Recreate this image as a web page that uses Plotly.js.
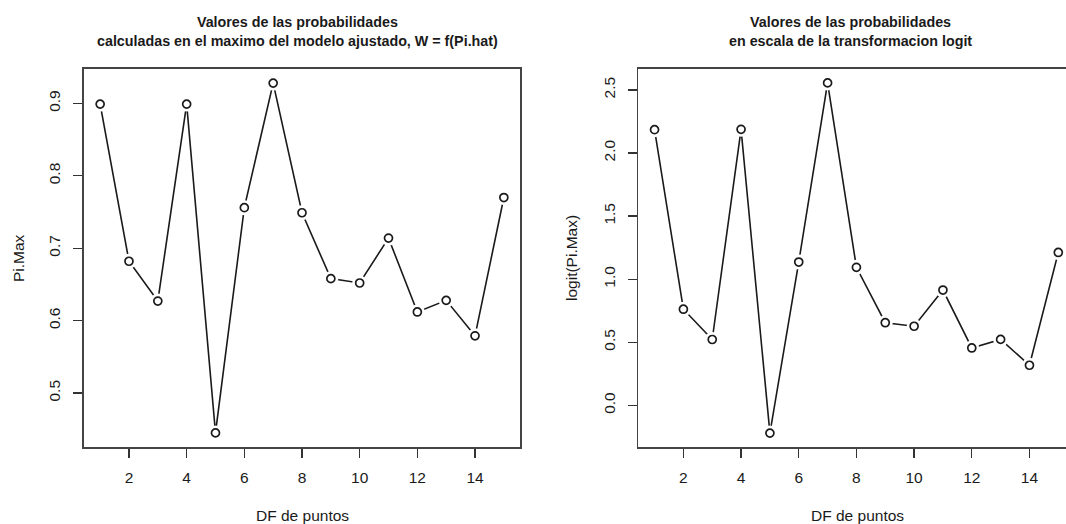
<!DOCTYPE html>
<html>
<head>
<meta charset="utf-8">
<script src="https://cdn.plot.ly/plotly-3.0.1.min.js"></script>
<style>html,body{margin:0;padding:0;background:#fff;}#chart{width:1066px;height:524px;}</style>
</head>
<body>
<div id="chart"></div>
<script>
// Data
const dfPuntos = [1, 2, 3, 4, 5, 6, 7, 8, 9, 10, 11, 12, 13, 14, 15];
const piMax = [0.899, 0.682, 0.627, 0.899, 0.445, 0.756, 0.928, 0.749, 0.658, 0.652, 0.714, 0.612, 0.628, 0.579, 0.770];
const logitPiMax = [2.185, 0.762, 0.522, 2.188, -0.220, 1.136, 2.556, 1.094, 0.655, 0.627, 0.914, 0.455, 0.523, 0.318, 1.212];
const xTicks = [2, 4, 6, 8, 10, 12, 14];
const y1Ticks = [0.5, 0.6, 0.7, 0.8, 0.9];
const y1TickText = ["0.5", "0.6", "0.7", "0.8", "0.9"];
const y2Ticks = [0.0, 0.5, 1.0, 1.5, 2.0, 2.5];
const y2TickText = ["0.0", "0.5", "1.0", "1.5", "2.0", "2.5"];

const titleLeft = "Valores de las probabilidades<br>calculadas en el maximo del modelo ajustado, W = f(Pi.hat)";
const titleRight = "Valores de las probabilidades<br>en escala de la transformacion logit";
const xTitle = "DF de puntos";
const yTitleLeft = "Pi.Max";
const yTitleRight = "logit(Pi.Max)";

const W = 1066, H = 524;
const px = v => v / W;
const py = v => 1 - v / H;
const FONT = "Liberation Sans, Arial, Helvetica, sans-serif";
const INK = "#1a1a1a";

function series(x, y, xa, ya) {
  return [
    {x: x, y: y, xaxis: xa, yaxis: ya, type: "scatter", mode: "lines",
     line: {color: INK, width: 1.6}, hoverinfo: "skip"},
    {x: x, y: y, xaxis: xa, yaxis: ya, type: "scatter", mode: "markers",
     marker: {symbol: "circle", size: 15, color: "#ffffff", line: {width: 0}}, hoverinfo: "skip"},
    {x: x, y: y, xaxis: xa, yaxis: ya, type: "scatter", mode: "markers",
     marker: {symbol: "circle", size: 8, color: "#ffffff", line: {color: INK, width: 1.7}}, hoverinfo: "skip"}
  ];
}

const data = [].concat(series(dfPuntos, piMax, "x", "y"), series(dfPuntos, logitPiMax, "x2", "y2"));

const axisCommon = {
  showgrid: false, zeroline: false, showline: true, linecolor: "#444", linewidth: 1.6,
  ticks: "outside", ticklen: 9, tickwidth: 1.3, tickcolor: "#333",
  tickfont: {family: FONT, size: 15.5, color: INK}, tickmode: "array"
};

const yTop = py(69), yBot = py(447);

const layout = {
  width: W, height: H,
  margin: {l: 0, r: 0, t: 0, b: 0},
  paper_bgcolor: "#ffffff", plot_bgcolor: "#ffffff",
  showlegend: false, hovermode: false,
  xaxis: Object.assign({}, axisCommon, {
    domain: [px(84), px(520)], range: [0.44, 15.56], anchor: "y",
    tickvals: xTicks, mirror: true, ticklabelstandoff: 7
  }),
  yaxis: Object.assign({}, axisCommon, {
    domain: [yBot, yTop], range: [0.4255, 0.9475], anchor: "x",
    tickvals: y1Ticks, ticktext: y1TickText, tickangle: -90, mirror: true, ticklabelstandoff: 7
  }),
  xaxis2: Object.assign({}, axisCommon, {
    domain: [px(638.4), 1], range: [0.44, 15.267], anchor: "y2",
    tickvals: xTicks, mirror: true, ticklabelstandoff: 7
  }),
  yaxis2: Object.assign({}, axisCommon, {
    domain: [yBot, yTop], range: [-0.33, 2.666], anchor: "x2",
    tickvals: y2Ticks, ticktext: y2TickText, tickangle: -90, mirror: false, ticklabelstandoff: 7
  }),
  annotations: [
    {text: "<b>" + titleLeft + "</b>", x: px(297), y: py(31), xref: "paper", yref: "paper",
     xanchor: "center", yanchor: "middle", showarrow: false, align: "center",
     font: {family: FONT, size: 14.3, color: INK}},
    {text: "<b>" + titleRight + "</b>", x: px(850), y: py(31), xref: "paper", yref: "paper",
     xanchor: "center", yanchor: "middle", showarrow: false, align: "center",
     font: {family: FONT, size: 14.3, color: INK}},
    {text: xTitle, x: px(302), y: py(515), xref: "paper", yref: "paper",
     xanchor: "center", yanchor: "middle", showarrow: false,
     font: {family: FONT, size: 15.5, color: INK}},
    {text: xTitle, x: px(857), y: py(515), xref: "paper", yref: "paper",
     xanchor: "center", yanchor: "middle", showarrow: false,
     font: {family: FONT, size: 15.5, color: INK}},
    {text: yTitleLeft, x: px(18), y: py(258), xref: "paper", yref: "paper",
     xanchor: "center", yanchor: "middle", showarrow: false, textangle: -90,
     font: {family: FONT, size: 15.5, color: INK}},
    {text: yTitleRight, x: px(571), y: py(258), xref: "paper", yref: "paper",
     xanchor: "center", yanchor: "middle", showarrow: false, textangle: -90,
     font: {family: FONT, size: 15.5, color: INK}}
  ]
};

Plotly.newPlot("chart", data, layout, {staticPlot: true, displayModeBar: false});
</script>
</body>
</html>
